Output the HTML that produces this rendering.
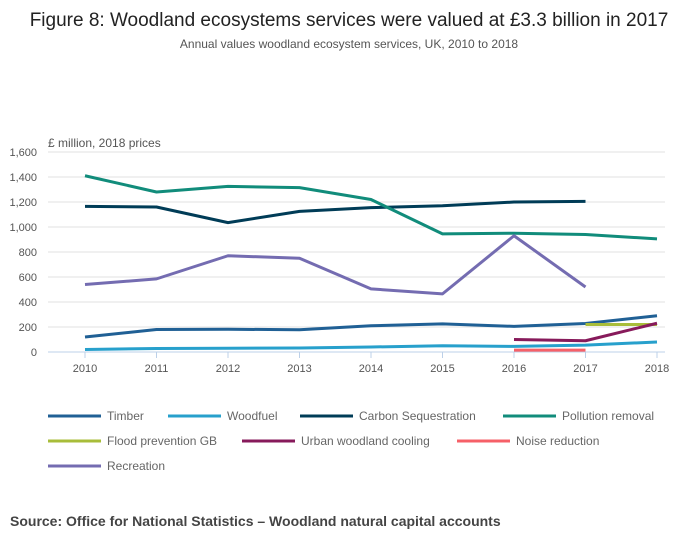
<!DOCTYPE html>
<html><head><meta charset="utf-8"><style>
body{margin:0;background:#fff;width:700px;height:549px;overflow:hidden;font-family:"Liberation Sans",sans-serif}
</style></head><body>
<svg width="700" height="549">
<text x="349" y="26" text-anchor="middle" font-size="19" fill="#222">Figure 8: Woodland ecosystems services were valued at £3.3 billion in 2017</text>
<text x="349" y="48" text-anchor="middle" font-size="12" fill="#555">Annual values woodland ecosystem services, UK, 2010 to 2018</text>
<text x="48" y="147" font-size="12" fill="#555">£ million, 2018 prices</text>
<g id="grid"></g><g id="series"></g><g id="legend"></g>
<text x="10" y="526" font-size="14" font-weight="bold" fill="#444">Source: Office for National Statistics – Woodland natural capital accounts</text>
</svg>
<script>
const years=[2010,2011,2012,2013,2014,2015,2016,2017,2018];
const yTicks=[0,200,400,600,800,1000,1200,1400,1600];
const seriesNames=["Timber","Woodfuel","Carbon Sequestration","Pollution removal","Flood prevention GB","Urban woodland cooling","Noise reduction","Recreation"];
const colors=["#206095","#27a0cc","#003c57","#118c7b","#a8bd3a","#871a5b","#f66068","#746cb1"];
const timber=[120,180,182,178,210,225,205,228,290];
const woodfuel=[20,28,30,32,40,50,45,55,80];
const carbon=[1165,1160,1035,1125,1155,1170,1200,1205,null];
const pollution=[1410,1280,1325,1315,1220,945,950,940,905];
const flood=[null,null,null,null,null,null,null,220,220];
const urban=[null,null,null,null,null,null,100,90,230];
const noise=[null,null,null,null,null,null,15,15,null];
const recreation=[540,585,770,750,505,465,930,520,null];
const allSeries=[timber,woodfuel,carbon,pollution,flood,urban,noise,recreation];
const NS="http://www.w3.org/2000/svg";
const X=y=>85+(y-2010)*71.5, Y=v=>352-v/1600*200;
function mk(t,a,p){const e=document.createElementNS(NS,t);for(const k in a)e.setAttribute(k,a[k]);p.appendChild(e);return e;}
const g=document.getElementById('grid');
yTicks.forEach(v=>{
 if(v>0){const l=mk('line',{x1:48,x2:665,y1:Y(v),y2:Y(v),stroke:'#e0e0e0'},g);
 
 }
 const t=mk('text',{x:37,y:Y(v)+4,'text-anchor':'end','font-size':11,fill:'#555'},g);t.textContent=v.toLocaleString('en-US');
 
 
});
const ax=mk('line',{x1:48,x2:665,y1:352,y2:352,stroke:'#bcd0e8'},g);


years.forEach(y=>{
 mk('line',{x1:X(y),x2:X(y),y1:352,y2:358,stroke:'#bcd0e8'},g);
 const t=mk('text',{x:X(y),y:372,'text-anchor':'middle','font-size':11,fill:'#555'},g);t.textContent=y;
 
 
});
const s=document.getElementById('series');
allSeries.forEach((d,i)=>{
 const pts=[];d.forEach((v,j)=>{if(v!==null)pts.push(X(years[j])+','+Y(v));});
 const p=mk('polyline',{points:pts.join(' '),fill:'none',stroke:colors[i],'stroke-width':3,'stroke-linejoin':'round'},s);
 
 
});
const lg=document.getElementById('legend');
const legX=[48,168,300,503,48,242,457,48];
const legY=[416,416,416,416,441,441,441,466];
seriesNames.forEach((n,i)=>{
 const x=legX[i],y=legY[i];
 const e=mk('g',{},lg);
 
 
 mk('line',{x1:x,x2:x+53,y1:y,y2:y,stroke:colors[i],'stroke-width':3},e);
 const t=mk('text',{x:x+59,y:y+4,'font-size':12,fill:'#666'},e);t.textContent=n;
});
</script>
</body></html>
